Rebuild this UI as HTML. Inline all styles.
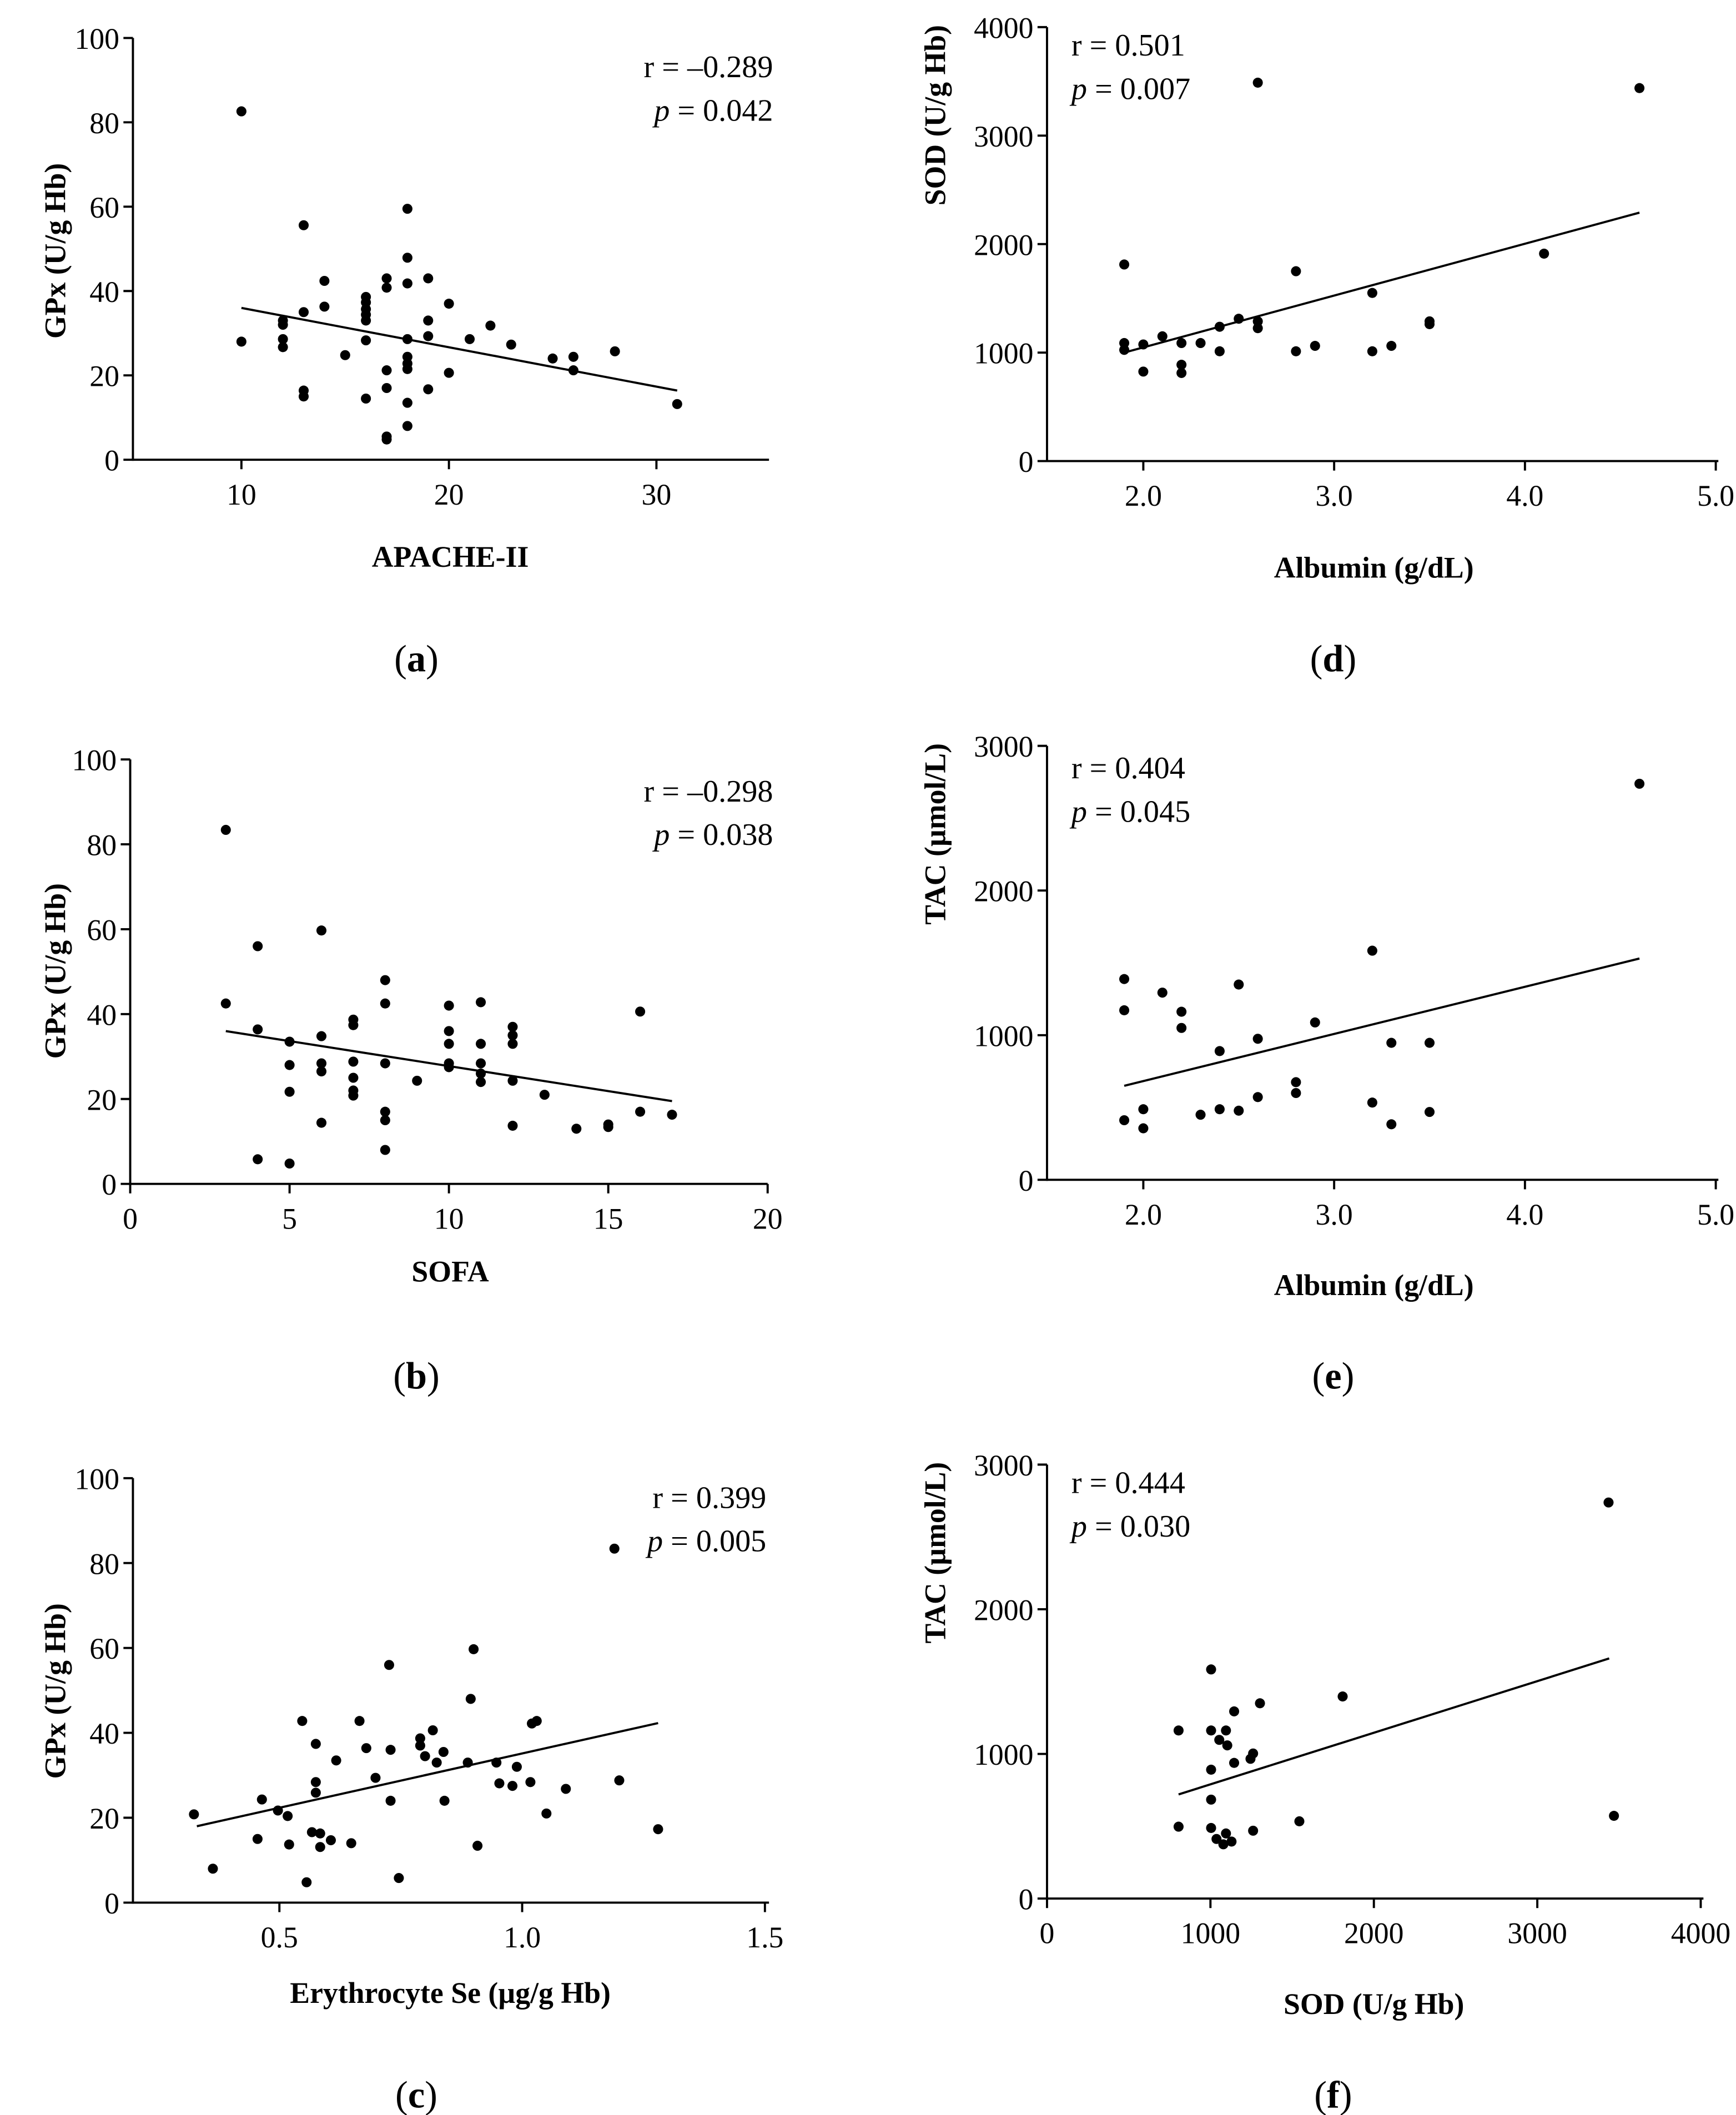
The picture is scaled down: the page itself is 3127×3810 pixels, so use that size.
<!DOCTYPE html>
<html><head><meta charset="utf-8"><style>
html,body{margin:0;padding:0;background:#fff}
svg{display:block}
text{font-family:"Liberation Serif",serif;fill:#000}
</style></head><body>
<svg id="fig" width="3127" height="3810" viewBox="0 0 1280 1559.6" xmlns="http://www.w3.org/2000/svg"></svg>
<script>
// ---- data (a) APACHE-II vs GPx
const aX=[10,10,12,12,12,12,13,13,13,13,14,14,15,16,16,16,16,16,16,16,17,17,17,17,17,17,18,18,18,18,18,18,18,18,18,19,19,19,19,20,20,21,22,23,25,26,26,28,31];
const aY=[82.6,28,33,32,28.6,26.7,55.6,35,16.4,15,42.4,36.3,24.8,38.6,37.3,35.7,34.4,33,28.3,14.5,43,40.8,21.2,17,5.5,4.8,59.5,47.9,41.8,28.6,24.4,22.8,21.5,13.5,8,43,33,29.3,16.7,37,20.6,28.6,31.8,27.3,24,24.4,21.2,25.7,13.2];
const aFit=[[10,36],[31,16.4]];
// ---- data (b) SOFA vs GPx
const bX=[3,3,4,4,4,5,5,5,5,6,6,6,6,6,7,7,7,7,7,7,8,8,8,8,8,8,9,10,10,10,10,10,11,11,11,11,11,12,12,12,12,12,13,14,15,15,16,16,17];
const bY=[83.4,42.5,56,36.4,5.8,33.5,28,21.7,4.8,59.7,34.8,28.4,26.5,14.4,38.7,37.4,28.8,25,22,20.8,48,42.5,28.4,17,15,8,24.3,42,36,33,28.4,27.5,42.8,33,28.4,26,24,37,35,33,24.3,13.7,21,13,14,13.4,40.6,17,16.3];
const bFit=[[3,36],[17,19.5]];
// ---- data (c) Erythrocyte Se vs GPx
const cX=[0.324,0.363,0.455,0.464,0.497,0.517,0.52,0.547,0.556,0.567,0.575,0.575,0.575,0.584,0.584,0.606,0.617,0.648,0.665,0.679,0.698,0.726,0.729,0.729,0.746,0.79,0.79,0.8,0.816,0.824,0.838,0.84,0.888,0.894,0.9,0.908,0.947,0.953,0.98,0.989,1.017,1.02,1.03,1.05,1.09,1.19,1.2,1.28];
const cY=[20.8,8,15,24.3,21.7,20.4,13.7,42.8,4.8,16.6,37.4,28.4,25.9,16.3,13.1,14.7,33.5,14,42.8,36.4,29.4,56,36,24,5.8,38.7,37,34.5,40.6,33,35.5,24,33,48,59.7,13.4,33,28.1,27.5,32,28.4,42.2,42.8,21,26.8,83.4,28.8,17.3];
const cFit=[[0.33,18],[1.28,42.3]];
// ---- data (d) Albumin vs SOD
const dX=[1.9,1.9,1.9,2.0,2.0,2.1,2.2,2.2,2.2,2.3,2.4,2.4,2.5,2.6,2.6,2.6,2.8,2.8,2.9,3.2,3.2,3.3,3.5,3.5,4.1,4.6];
const dY=[1812,1088,1025,1075,825,1150,1088,888,812,1088,1238,1012,1312,3488,1288,1225,1750,1012,1062,1550,1012,1062,1262,1288,1912,3438];
const dFit=[[1.9,1000],[4.6,2290]];
// ---- data (e) Albumin vs TAC
const eX=[1.9,1.9,1.9,2.0,2.0,2.1,2.2,2.2,2.3,2.4,2.4,2.5,2.5,2.6,2.6,2.8,2.8,2.9,3.2,3.2,3.3,3.3,3.5,3.5,4.6];
const eY=[1388,1172,412,488,356,1294,1162,1050,450,890,488,1350,478,975,572,675,600,1088,1584,534,947,384,947,469,2738];
const eFit=[[1.9,650],[4.6,1530]];
// ---- data (f) SOD vs TAC
const fX=[805,805,1004,1004,1004,1004,1004,1037,1054,1095,1103,1079,1095,1129,1145,1145,1245,1261,1261,1303,1544,1809,3436,3469];
const fY=[1162,497,1584,1162,891,684,488,412,1097,1162,1059,375,450,394,1294,938,966,1003,469,1350,534,1397,2738,572];
const fFit=[[805,720],[3440,1660]];
// tick labels
const aXt=[10,20,30], gpxYt=[0,20,40,60,80,100];
const bXt=[0,5,10,15,20];
const cXt=[0.5,1.0,1.5], cXl=["0.5","1.0","1.5"];
const albXt=[2,3,4,5], albXl=["2.0","3.0","4.0","5.0"];
const sodYt=[0,1000,2000,3000,4000], tacYt=[0,1000,2000,3000];
const fXt=[0,1000,2000,3000,4000];

const NS="http://www.w3.org/2000/svg", svg=document.getElementById('fig');
function el(tag,attrs,parent,txt){const e=document.createElementNS(NS,tag);for(const k in attrs)e.setAttribute(k,attrs[k]);if(txt!=null)e.textContent=txt;(parent||svg).appendChild(e);return e;}

function panel(c){
  const g=el('g',{});
  
  
  const sx=v=>c.x0+(v-c.xa)*c.kx, sy=v=>c.y0-(v-c.ya)*c.ky;
  const ax=el('line',{x1:c.L,y1:c.y0,x2:c.R,y2:c.y0,stroke:'#000','stroke-width':1.6},g);
  
  const ay=el('line',{x1:c.L,y1:c.y0+0.8,x2:c.L,y2:c.T,stroke:'#000','stroke-width':1.6},g);
  
  c.xt.forEach((v,i)=>{const x=sx(v);
    el('line',{x1:x,y1:c.y0,x2:x,y2:c.y0+7,stroke:'#000','stroke-width':1.6},g);
    const t=el('text',{x:x,y:c.y0+33,'text-anchor':'middle','font-size':22},g,c.xl?c.xl[i]:String(v));
    });
  c.yt.forEach(v=>{const y=sy(v);
    el('line',{x1:c.L-7,y1:y,x2:c.L,y2:y,stroke:'#000','stroke-width':1.6},g);
    const t=el('text',{x:c.L-10,y:y+8,'text-anchor':'end','font-size':22},g,String(v));
    });
  const fl=el('line',{x1:sx(c.fit[0][0]),y1:sy(c.fit[0][1]),x2:sx(c.fit[1][0]),y2:sy(c.fit[1][1]),stroke:'#000','stroke-width':1.6},g);
  
  c.X.forEach((v,i)=>{const p=el('circle',{cx:sx(v),cy:sy(c.Y[i]),r:3.7,fill:'#000'},g);
    });
  const xt=el('text',{x:c.xtx,y:c.xty,'text-anchor':'middle','font-size':22,'font-weight':'bold'},g,c.xtitle);
  
  const yt=el('text',{x:0,y:0,transform:`translate(${c.ytx},${c.yty}) rotate(-90)`,'text-anchor':'middle','font-size':22,'font-weight':'bold'},g,c.ytitle);
  
  const anc=c.annR?'end':'start';
  const r=el('text',{x:c.anx,y:c.any,'text-anchor':anc,'font-size':23},g,c.r);
  
  const p=el('text',{x:c.anx,y:c.any+32,'text-anchor':anc,'font-size':23},g);
  
  el('tspan',{'font-style':'italic'},p,'p');el('tspan',{},p,' = '+c.p);
  const lb=el('text',{x:c.lbx,y:c.lby,'text-anchor':'middle','font-size':28},g);
  
  el('tspan',{},lb,'(');el('tspan',{'font-weight':'bold'},lb,c.id);el('tspan',{},lb,')');
}

panel({id:'a',X:aX,Y:aY,fit:aFit,L:98,R:567,T:28,x0:178,xa:10,kx:15.3,y0:339,ya:0,ky:3.11,xt:aXt,yt:gpxYt,
  xtitle:'APACHE-II',xtx:332,xty:418,ytitle:'GPx (U/g Hb)',ytx:48,yty:185,annR:true,anx:570,any:57,r:'r = –0.289',p:'0.042',lbx:307,lby:495});
panel({id:'b',X:bX,Y:bY,fit:bFit,L:96,R:566,T:560,x0:96,xa:0,kx:23.5,y0:873,ya:0,ky:3.13,xt:bXt,yt:gpxYt,
  xtitle:'SOFA',xtx:332,xty:945,ytitle:'GPx (U/g Hb)',ytx:48,yty:716,annR:true,anx:570,any:591,r:'r = –0.298',p:'0.038',lbx:307,lby:1024});
panel({id:'c',X:cX,Y:cY,fit:cFit,L:98,R:567,T:1090,x0:206,xa:0.5,kx:358,y0:1403,ya:0,ky:3.13,xt:cXt,xl:cXl,yt:gpxYt,
  xtitle:'Erythrocyte Se (µg/g Hb)',xtx:332,xty:1477,ytitle:'GPx (U/g Hb)',ytx:48,yty:1247,annR:true,anx:565,any:1112,r:'r = 0.399',p:'0.005',lbx:307,lby:1554});
panel({id:'d',X:dX,Y:dY,fit:dFit,L:772,R:1267,T:20,x0:843,xa:2,kx:140.7,y0:340,ya:0,ky:0.08,xt:albXt,xl:albXl,yt:sodYt,
  xtitle:'Albumin (g/dL)',xtx:1013,xty:426,ytitle:'SOD (U/g Hb)',ytx:697,yty:85,annR:false,anx:790,any:41,r:'r = 0.501',p:'0.007',lbx:983,lby:495});
panel({id:'e',X:eX,Y:eY,fit:eFit,L:772,R:1267,T:550,x0:843,xa:2,kx:140.7,y0:870,ya:0,ky:320/3000,xt:albXt,xl:albXl,yt:tacYt,
  xtitle:'Albumin (g/dL)',xtx:1013,xty:955,ytitle:'TAC (µmol/L)',ytx:697,yty:615,annR:false,anx:790,any:574,r:'r = 0.404',p:'0.045',lbx:983,lby:1024});
panel({id:'f',X:fX,Y:fY,fit:fFit,L:772,R:1256,T:1080,x0:772,xa:0,kx:0.1205,y0:1400,ya:0,ky:320/3000,xt:fXt,yt:tacYt,
  xtitle:'SOD (U/g Hb)',xtx:1013,xty:1485,ytitle:'TAC (µmol/L)',ytx:697,yty:1145,annR:false,anx:790,any:1101,r:'r = 0.444',p:'0.030',lbx:983,lby:1554});
</script>
</body></html>
